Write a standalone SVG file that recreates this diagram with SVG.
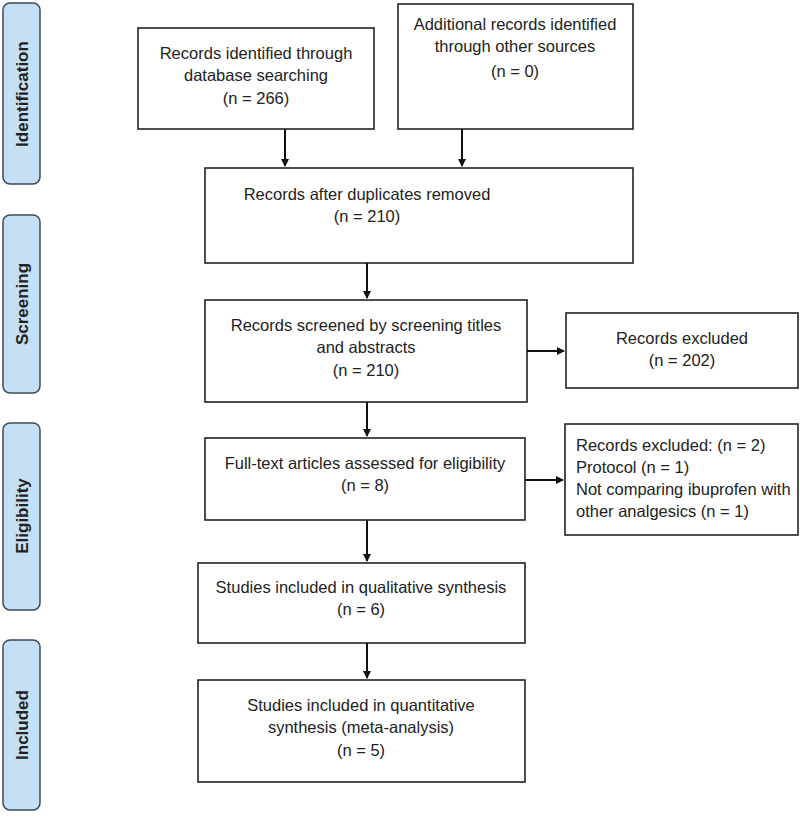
<svg xmlns="http://www.w3.org/2000/svg" width="800" height="820" viewBox="0 0 800 820">
<style>
.b{fill:#fff;stroke:#222;stroke-width:1.6}
.s{fill:#c5dff5;stroke:#3a4a5a;stroke-width:1.5}
text{font-family:"Liberation Sans",Arial,sans-serif;font-size:16.5px;fill:#222}
.c{text-anchor:middle}
.l{font-weight:bold;font-size:17px;text-anchor:middle}
.a{stroke:#111;stroke-width:2;fill:none;marker-end:url(#m)}
</style>
<defs><marker id="m" markerWidth="8" markerHeight="8" refX="7" refY="4" orient="auto" markerUnits="userSpaceOnUse"><path d="M0,0 L8,4 L0,8 z" fill="#111"/></marker></defs>
<rect width="800" height="820" fill="#fff"/>
<g id="stages">
<rect class="s" x="3" y="3" width="37" height="181" rx="7"/><text class="l" transform="translate(28,94) rotate(-90)">Identification</text>
<rect class="s" x="3" y="215" width="37" height="178" rx="7"/><text class="l" transform="translate(28,304) rotate(-90)">Screening</text>
<rect class="s" x="3" y="423" width="37" height="187" rx="7"/><text class="l" transform="translate(28,516) rotate(-90)">Eligibility</text>
<rect class="s" x="3" y="640" width="37" height="170" rx="7"/><text class="l" transform="translate(28,725) rotate(-90)">Included</text>
</g>
<g id="n1"><rect class="b" x="138" y="28" width="236" height="101"/><text class="c" x="256" y="59">Records identified through</text><text class="c" x="256" y="81">database searching</text><text class="c" x="256" y="104">(n = 266)</text></g>
<g id="n2"><rect class="b" x="398" y="4" width="235" height="125"/><text class="c" x="515" y="30">Additional records identified</text><text class="c" x="515" y="52">through other sources</text><text class="c" x="515" y="77">(n = 0)</text></g>
<g id="n3"><rect class="b" x="205" y="168" width="428" height="95"/><text class="c" x="367" y="200">Records after duplicates removed</text><text class="c" x="367" y="222">(n = 210)</text></g>
<g id="n4"><rect class="b" x="205" y="300" width="322" height="102"/><text class="c" x="366" y="331">Records screened by screening titles</text><text class="c" x="366" y="353">and abstracts</text><text class="c" x="366" y="376">(n = 210)</text></g>
<g id="n5"><rect class="b" x="566" y="313" width="232" height="75"/><text class="c" x="682" y="344">Records excluded</text><text class="c" x="682" y="366">(n = 202)</text></g>
<g id="n6"><rect class="b" x="205" y="438" width="320" height="82"/><text class="c" x="365" y="469">Full-text articles assessed for eligibility</text><text class="c" x="365" y="491">(n = 8)</text></g>
<g id="n7"><rect class="b" x="565" y="424" width="233" height="111"/><text x="576" y="451">Records excluded: (n = 2)</text><text x="576" y="473">Protocol (n = 1)</text><text x="576" y="495">Not comparing ibuprofen with</text><text x="576" y="517">other analgesics (n = 1)</text></g>
<g id="n8"><rect class="b" x="198" y="563" width="327" height="80"/><text class="c" x="361" y="593">Studies included in qualitative synthesis</text><text class="c" x="361" y="615">(n = 6)</text></g>
<g id="n9"><rect class="b" x="198" y="680" width="327" height="102"/><text class="c" x="361" y="711">Studies included in quantitative</text><text class="c" x="361" y="733">synthesis (meta-analysis)</text><text class="c" x="361" y="756">(n = 5)</text></g>
<g id="connectors">
<path class="a" d="M285,129 V166"/>
<path class="a" d="M462,129 V166"/>
<path class="a" d="M367,263 V298"/>
<path class="a" d="M527,351 H564"/>
<path class="a" d="M367,402 V436"/>
<path class="a" d="M525,480 H563"/>
<path class="a" d="M367,520 V561"/>
<path class="a" d="M367,643 V678"/>
</g>
</svg>
